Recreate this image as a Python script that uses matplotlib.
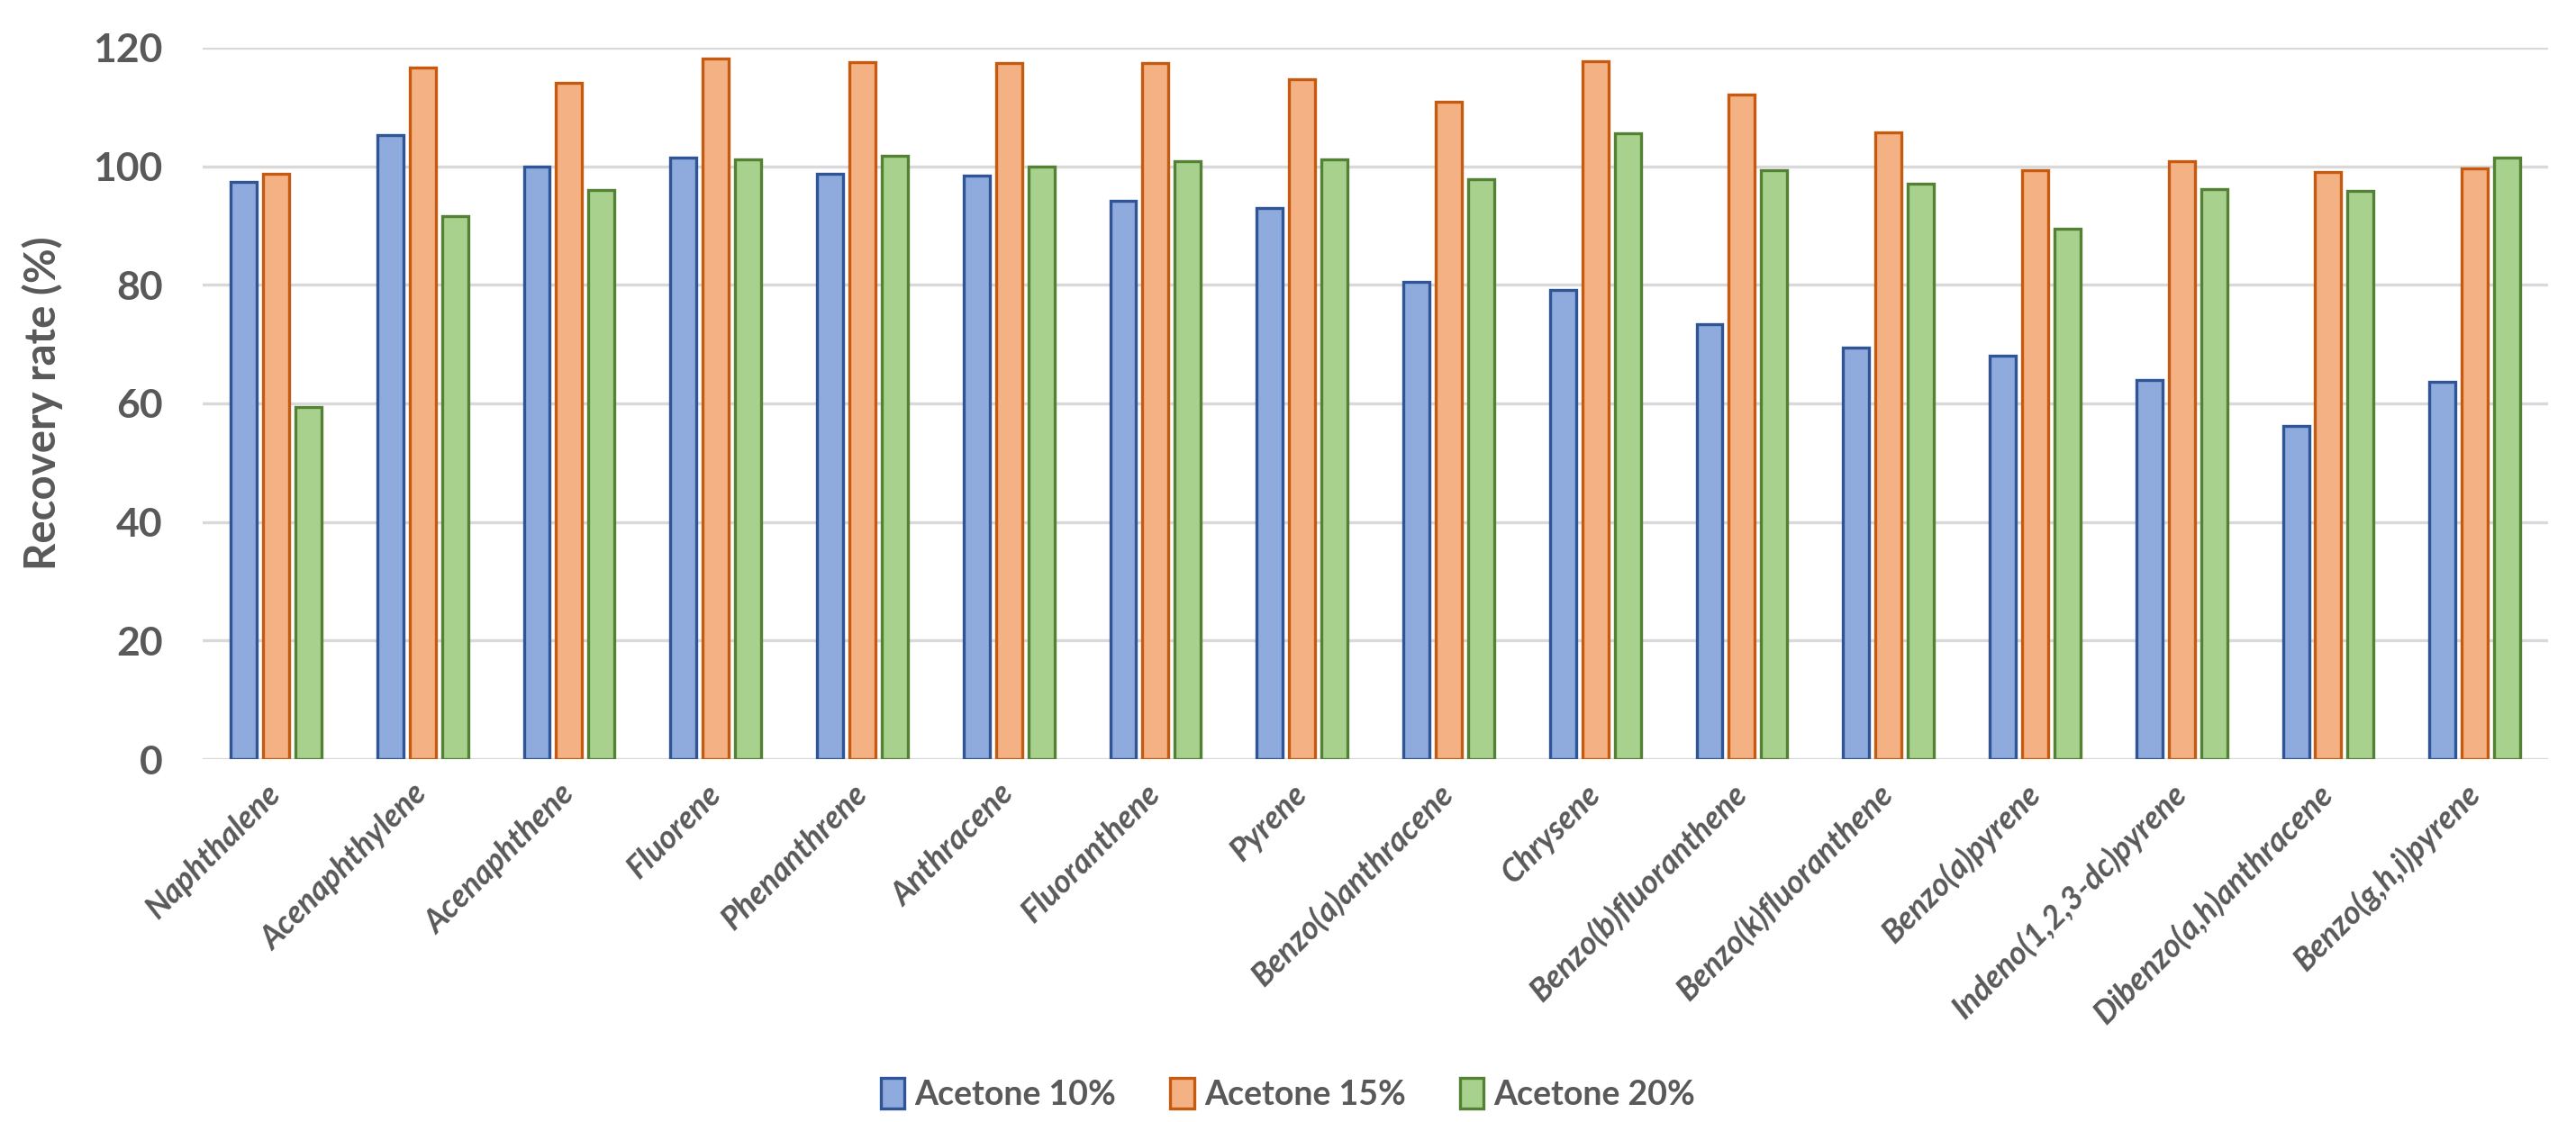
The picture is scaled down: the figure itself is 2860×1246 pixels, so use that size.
import numpy as np
import matplotlib.pyplot as plt

plt.rcParams['font.family'] = ['Lato', 'DejaVu Sans']

compounds = ['Naphthalene', 'Acenaphthylene', 'Acenaphthene', 'Fluorene', 'Phenanthrene',
             'Anthracene', 'Fluoranthene', 'Pyrene', 'Benzo(a)anthracene', 'Chrysene',
             'Benzo(b)fluoranthene', 'Benzo(k)fluoranthene', 'Benzo(a)pyrene',
             'Indeno(1,2,3-dc)pyrene', 'Dibenzo(a,h)anthracene', 'Benzo(g,h,i)pyrene']

acetone_10 = [97.4, 105.2, 99.9, 101.5, 98.7, 98.5, 94.1, 93.0, 80.5, 79.2, 73.3, 69.4, 68.1, 64.0, 56.2, 63.7]
acetone_15 = [98.8, 116.6, 114.1, 118.1, 117.6, 117.4, 117.4, 114.7, 110.9, 117.7, 112.1, 105.7, 99.3, 100.9, 99.1, 99.7]
acetone_20 = [59.4, 91.6, 96.0, 101.1, 101.7, 100.0, 100.9, 101.1, 97.8, 105.5, 99.4, 97.0, 89.4, 96.1, 95.9, 101.4]

series = [('Acetone 10%', acetone_10, '#8FAADC', '#2F5597'),
          ('Acetone 15%', acetone_15, '#F4B183', '#C55A11'),
          ('Acetone 20%', acetone_20, '#A9D18E', '#548235')]

grey = '#595959'

fig = plt.figure(figsize=(14.3, 6.23), dpi=200)
ax = fig.add_axes([0.0787, 0.3234, 0.9105, 0.6341])

x = np.arange(len(compounds))
width = 0.178
step = 0.221
for i, (name, vals, fc, ec) in enumerate(series):
    ax.bar(x + (i - 1) * step, vals, width, color=fc, edgecolor=ec, linewidth=1.2,
           label=name, zorder=3)

ax.set_xlim(-0.5, len(compounds) - 0.5)
ax.set_ylim(0, 120)
ax.set_yticks(range(0, 121, 20))
ax.yaxis.grid(True, color='#D9D9D9', linewidth=1.2, zorder=0)
ax.set_axisbelow(True)
for s in ax.spines.values():
    s.set_visible(False)

ax.tick_params(axis='y', length=0, pad=16, labelsize=16, labelcolor=grey)
ax.tick_params(axis='x', length=0, pad=12, labelcolor=grey)
for lab in ax.get_yticklabels():
    lab.set_fontweight('bold')

ax.set_xticks(x)
ax.set_xticklabels(compounds, rotation=45, ha='right', rotation_mode='anchor',
                   fontsize=12.8, fontweight='bold', fontstyle='italic', va='center')

ax.set_ylabel('Recovery rate (%)', fontsize=17, fontweight='bold', color=grey, labelpad=12)

# legend under the rotated labels
fig.legend(loc='center', bbox_to_anchor=(0.5, 0.025), ncol=3, frameon=False,
           labelcolor=grey, handlelength=0.7, handleheight=1.0,
           handletextpad=0.3, columnspacing=1.6, prop={'weight': 'bold', 'size': 13.5})

fig.savefig('out.png', dpi=200)
